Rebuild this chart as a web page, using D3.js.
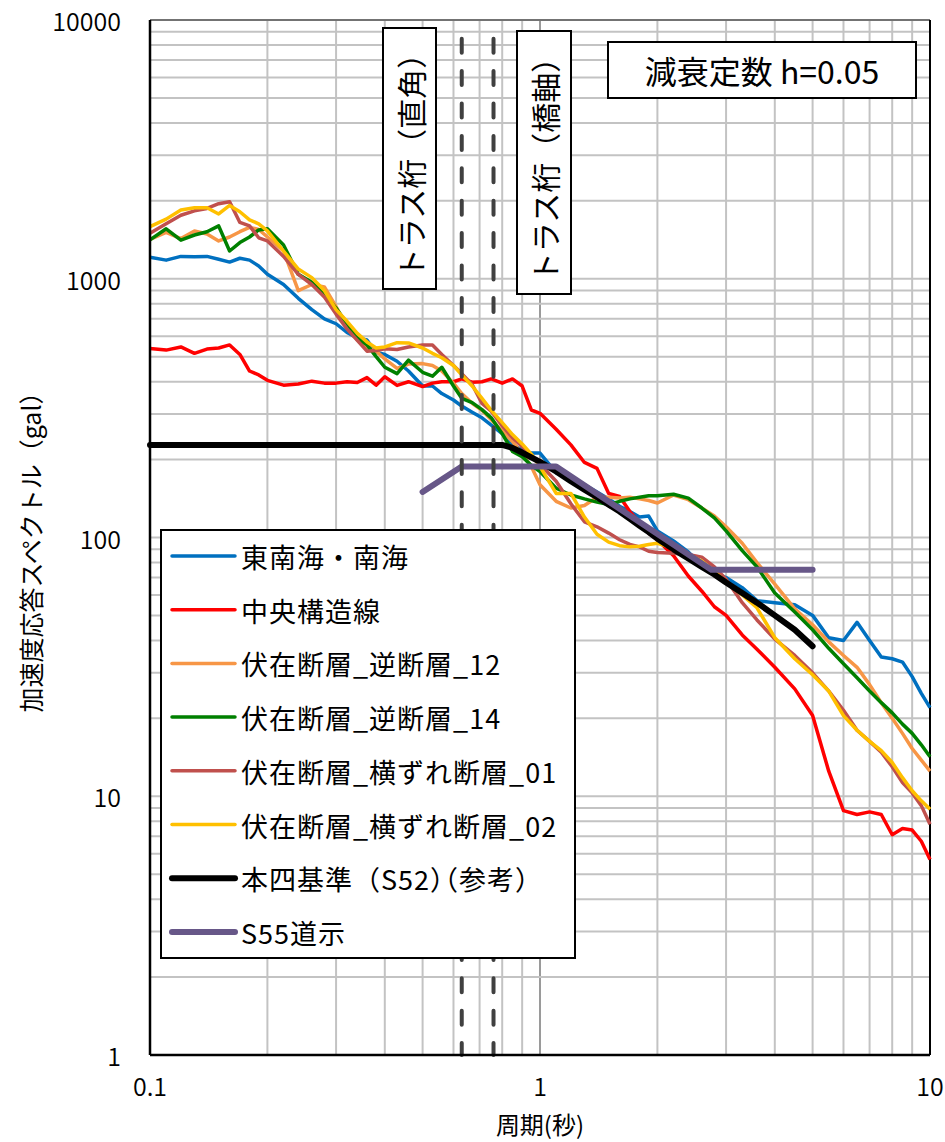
<!DOCTYPE html>
<html><head><meta charset="utf-8">
<script src="https://cdn.jsdelivr.net/npm/d3@7"></script>
<style>
html,body{margin:0;padding:0;background:#fff;}
svg text{font-family:"Noto Sans CJK JP","Noto Sans",sans-serif;fill:#000;font-weight:400;}
svg text.num{font-weight:350;}
.halt{font-feature-settings:"halt";}
</style></head>
<body>
<svg id="chart" width="945" height="1142"></svg>
<script>
// ---------- data ----------
const periods = [0.10,0.11,0.12,0.13,0.14,0.15,0.16,0.17,0.18,0.19,0.20,0.22,0.24,0.26,0.28,0.30,0.32,0.34,0.36,0.38,0.40,0.43,0.46,0.50,0.53,0.56,0.60,0.63,0.67,0.71,0.75,0.80,0.85,0.90,0.95,1.0,1.1,1.2,1.3,1.4,1.5,1.6,1.7,1.8,1.9,2.0,2.2,2.4,2.6,2.8,3.0,3.3,3.6,4.0,4.5,5.0,5.5,6.0,6.5,7.0,7.5,8.0,8.5,9.0,9.5,10];

const tonankai = [1210,1180,1220,1215,1220,1190,1160,1200,1180,1120,1040,
  950,840,760,700,670, 620,590,580,520,510, 480,440,385,385,360,340,
  322,305,290,272,252,228,218,212,212, 178,172,160,150,141,132,126,120,121,106,
  97,88,78,73,70, 64,57,56,55,50, 41,40,47,40,34.5,34,33,29,25,22];
const chuo = [538,530,545,515,535,540,555,510,440,425,405,
  388,392,402,395,395, 400,397,415,388,418, 387,400,383,395,400,400,
  410,398,400,410,395,410,385,311,302, 262,228,195,185,148,144,126,114,104,98,
  85,71,62,54,50, 42,37,31.5,26,20.5, 12.5,8.8,8.5,8.7,8.5,7.1,7.5,7.4,6.7,5.7];
const gyaku12 = [1420,1510,1430,1530,1490,1400,1450,1520,1580,1550,1450,
  1280,900,950,930,780, 650,580,540,525,490, 450,468,470,462,440,395,
  360,330,310,285,258,235,210,188,160, 138,130,133,143,143,142,143,141,139,136,
  146,140,130,121,110, 95,80,66,53,46, 39.5,35,31.5,27,23,20,17.5,15.3,13.8,12.5];
const gyaku14 = [1413,1560,1410,1476,1520,1600,1280,1380,1450,1544,1560,
  1350,1040,970,870,770, 670,590,555,500,455, 430,485,435,420,455,385,
  345,332,312,290,252,215,205,190,180, 155,146,141,137,134,138,141,143,145,145,
  147,142,130,119,106, 89,77,61,51.5,44, 37.3,32.5,28.7,25.5,23,21,19,17.5,15.8,14.2];
const yoko01 = [1500,1630,1760,1830,1870,1950,1985,1650,1600,1440,1400,
  1220,1040,950,850,730, 640,578,525,528,536, 533,545,555,555,510,462,
  430,390,330,308,270,243,225,205,192, 165,135,115,110,104,98,94,92,88.5,87.5,
  87,86,84,77,69, 56,48,40.5,35,30, 25.5,21.5,18,16.3,14.8,13,11.3,10.3,9.2,7.8];
const yoko02 = [1590,1700,1845,1880,1880,1780,1920,1815,1690,1630,1530,
  1280,1090,1010,900,760, 685,615,570,540,545, 566,565,540,515,495,462,
  425,385,345,310,278,250,230,210,188, 148,148,120,103,96,93,92,92.5,94,95,
  91,86,81,74,67, 60,53.5,41,34,29.5, 25.5,20.5,18,16.3,15,13.5,11.8,10.5,9.6,8.9];

const honshiPeriods = [0.1,0.8,0.85,0.9,0.95,1.0,1.1,1.2,1.3,1.4,1.5,1.6,1.7,1.8,1.9,2.0,2.2,2.4,2.6,2.8,3.0,3.3,3.6,4.0,4.5,5.0];
const honshiValues  = [228,228,222,213,204,196,180,165,153,143,134,126,118,111,105,99,90,83,77,72,67,61,56,50,44,38];

const s55Periods = [0.5,0.63,1.1,2.75,5.0];
const s55Values  = [150,188,188,75,75];

const seriesNames = ["東南海・南海","中央構造線","伏在断層_逆断層_12","伏在断層_逆断層_14","伏在断層_横ずれ断層_01","伏在断層_横ずれ断層_02","本四基準（S52）（参考）","S55道示"];
const seriesColors = ["#0070C0","#FF0000","#F79646","#008000","#C0504D","#FFC000","#000000","#675788"];

const trussPeriods = [0.63,0.76];
const xTickLabels = ["0.1","1","10"];
const yTickLabels = ["1","10","100","1000","10000"];

// ---------- layout ----------
const svg = d3.select("#chart");
const L = 150, R = 930, T = 20, B = 1055;
const x = d3.scaleLog().domain([0.1,10]).range([L,R]);
const y = d3.scaleLog().domain([1,10000]).range([B,T]);

// grid
const g = svg.append("g");
g.selectAll("line.vg").data(x.ticks()).join("line")
  .attr("x1",d=>x(d)).attr("x2",d=>x(d)).attr("y1",T).attr("y2",B)
  .attr("stroke",d=>Math.abs(d-1)<1e-9?"#9a9a9a":"#c3c3c3").attr("stroke-width",2);
g.selectAll("line.hg").data(y.ticks()).join("line")
  .attr("x1",L).attr("x2",R).attr("y1",d=>y(d)).attr("y2",d=>y(d))
  .attr("stroke","#c3c3c3").attr("stroke-width",2);

// frame
svg.append("line").attr("x1",L).attr("x2",R).attr("y1",T).attr("y2",T).attr("stroke","#595959").attr("stroke-width",1.5);
svg.append("line").attr("x1",R).attr("x2",R).attr("y1",T).attr("y2",B).attr("stroke","#000").attr("stroke-width",2);

// annotation boxes (behind data)
function vbox(x0,x1,y0,y1,txt){
  svg.append("rect").attr("x",x0).attr("y",y0).attr("width",x1-x0).attr("height",y1-y0)
    .attr("fill","#fff").attr("stroke","#000").attr("stroke-width",2);
  svg.append("text").attr("transform",`translate(${(x0+x1)/2},${(y0+y1)/2}) rotate(-90)`)
    .attr("text-anchor","middle").attr("dominant-baseline","central")
    .attr("font-size",30).text(txt);
}
vbox(383,436,28,289,"トラス桁（直角）");
vbox(517,571,31,294,"トラス桁（橋軸）");

// series
const line = d3.line().x(d=>x(d[0])).y(d=>y(d[1]));
const seriesData = [tonankai,chuo,gyaku12,gyaku14,yoko01,yoko02];
seriesData.forEach((vals,i)=>{
  svg.append("path").datum(periods.map((p,j)=>[p,vals[j]]))
    .attr("d",line).attr("fill","none").attr("stroke",seriesColors[i])
    .attr("stroke-width",3.5).attr("stroke-linejoin","round");
});
svg.append("path").datum(honshiPeriods.map((p,j)=>[p,honshiValues[j]]))
  .attr("d",line).attr("fill","none").attr("stroke",seriesColors[6])
  .attr("stroke-width",6).attr("stroke-linejoin","round").attr("stroke-linecap","round");
svg.append("path").datum(s55Periods.map((p,j)=>[p,s55Values[j]]))
  .attr("d",line).attr("fill","none").attr("stroke",seriesColors[7])
  .attr("stroke-width",6).attr("stroke-linejoin","round").attr("stroke-linecap","round");

// dashed truss period lines
svg.selectAll("line.truss").data(trussPeriods).join("line")
  .attr("x1",d=>x(d)).attr("x2",d=>x(d)).attr("y1",38.7).attr("y2",B)
  .attr("stroke","#404040").attr("stroke-width",4).attr("stroke-linecap","round")
  .attr("stroke-dasharray","14,18.4");

// axes lines
svg.append("line").attr("x1",L).attr("x2",L).attr("y1",T).attr("y2",B).attr("stroke","#000").attr("stroke-width",2.5);
svg.append("line").attr("x1",L).attr("x2",R).attr("y1",B).attr("y2",B).attr("stroke","#000").attr("stroke-width",2.5);

// damping box
svg.append("rect").attr("x",608).attr("y",42).attr("width",308).attr("height",56)
  .attr("fill","#fff").attr("stroke","#000").attr("stroke-width",2);
svg.append("text").attr("x",762).attr("y",70).attr("text-anchor","middle")
  .attr("dominant-baseline","central").attr("font-size",32).text("減衰定数 h=0.05");

// tick labels
svg.selectAll("text.yt").data(yTickLabels).join("text").attr("class","num")
  .attr("x",121).attr("y",d=>y(+d)).attr("text-anchor","end").attr("dominant-baseline","central")
  .attr("font-size",25).text(d=>d);
svg.selectAll("text.xt").data(xTickLabels).join("text").attr("class","num")
  .attr("x",d=>x(+d)).attr("y",1085).attr("text-anchor","middle").attr("dominant-baseline","central")
  .attr("font-size",25).text(d=>d);

// axis titles
svg.append("text").attr("x",540).attr("y",1123).attr("text-anchor","middle").attr("dominant-baseline","central")
  .attr("font-size",24).text("周期(秒)");
svg.append("text").attr("transform","translate(30,546) rotate(-90)").attr("text-anchor","middle")
  .attr("dominant-baseline","central").attr("font-size",25).text("加速度応答スペクトル（gal）");

// legend
const lg = svg.append("g");
lg.append("rect").attr("x",161).attr("y",530).attr("width",414).attr("height",428)
  .attr("fill","#fff").attr("stroke","#000").attr("stroke-width",2);
seriesNames.forEach((name,i)=>{
  const yy = 556 + i*53.7;
  lg.append("line").attr("x1",172).attr("x2",235).attr("y1",yy).attr("y2",yy)
    .attr("stroke",seriesColors[i]).attr("stroke-width",i>=6?6:3.5).attr("stroke-linecap","round");
  const t = lg.append("text").attr("x",241).attr("y",yy).attr("dominant-baseline","central")
    .attr("font-size",27).attr("letter-spacing",1);
  const parts = name.split(/(）（)/);
  parts.forEach(p=>{
    if(!p) return;
    t.append("tspan").attr("class",p==="）（"?"halt":null).text(p);
  });
});
</script>
</body></html>
